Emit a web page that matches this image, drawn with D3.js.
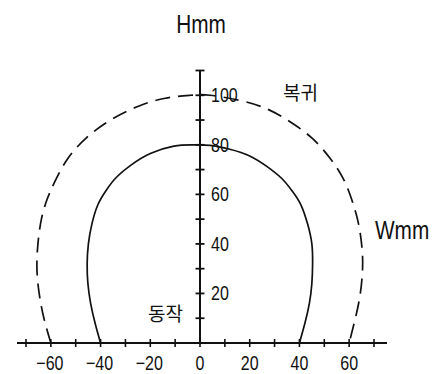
<!DOCTYPE html>
<html>
<head>
<meta charset="utf-8">
<script src="https://cdn.jsdelivr.net/npm/d3@7"></script>
<style>
	body { margin: 0; background: #fff; }
	svg text { font-family: 'Liberation Sans', Arial, sans-serif; fill: #111; }
	svg text.kr { font-family: 'Noto Sans CJK KR', sans-serif; }
</style>
</head>
<body>
<div id="chart"></div>
<script>
// operating curve (solid), W/H in mm, left bottom -> right bottom
const operateW = [-40, -42.2, -44, -45.1, -45.4, -44.9, -43.5, -41, -37.5, -33.5, -27.5, -20, -10.5, -3, 4, 12, 20, 27, 32.8, 37, 40.5, 43.3, 45, 45.3, 45, 44, 42.2, 40];
const operateH = [0, 8, 16, 24, 32, 40, 48, 56, 62, 67, 72, 76.5, 79.5, 80, 79.8, 78.2, 75.5, 71.2, 66.5, 61.5, 56, 48, 40, 32, 24, 16, 8, 0];

// return curve (dashed)
const returnW = [-60, -62.8, -64.7, -65.6, -65.2, -63.8, -61.5, -58.7, -53.5, -45.5, -36, -25, -14, -4, 4, 17, 28, 37.3, 45.3, 52, 57.3, 61, 63.8, 65.2, 65.4, 64.5, 62.5, 60];
const returnH = [0, 10, 20, 30, 40, 50, 58, 64.5, 74, 83, 90, 95.5, 98.8, 100, 100, 97.7, 94, 88.6, 82.5, 75, 67, 58, 48, 38, 30, 20, 10, 0];

const xTicks = [-70, -60, -50, -40, -30, -20, -10, 0, 10, 20, 30, 40, 50, 60, 70];
const xLabels = [-60, -40, -20, 0, 20, 40, 60];
const yTicks = [10, 20, 30, 40, 50, 60, 70, 80, 90, 100, 110];
const yLabels = [20, 40, 60, 80, 100];

const width = 442;
const height = 374;

const svg = d3.select('#chart')
	.append('svg')
	.attr('width', width)
	.attr('height', height);

const x = d3.scaleLinear().domain([-70, 70]).range([26, 374]);
const y = d3.scaleLinear().domain([0, 110]).range([343, 70.5]);

const ink = '#111';
const narrow = 0.8; // squeeze text to look like the condensed drafting font

// x axis
svg.append('line')
	.attr('x1', x(-70) - 9).attr('x2', x(70) + 13)
	.attr('y1', y(0)).attr('y2', y(0))
	.attr('stroke', ink).attr('stroke-width', 2);

svg.selectAll('.xtick')
	.data(xTicks)
	.enter()
	.append('line')
	.attr('class', 'xtick')
	.attr('x1', (d) => x(d)).attr('x2', (d) => x(d))
	.attr('y1', y(0) - 4).attr('y2', y(0) + 4)
	.attr('stroke', ink).attr('stroke-width', 1.6);

svg.selectAll('.xlabel')
	.data(xLabels)
	.enter()
	.append('text')
	.attr('class', 'xlabel')
	.attr('transform', (d) => `translate(${x(d) - (d < 0 ? 1 : 0)},370) scale(${narrow},1)`)
	.attr('text-anchor', 'middle')
	.attr('font-size', 20)
	.text((d) => d < 0 ? '\u2212' + Math.abs(d) : d);

// y axis
svg.append('line')
	.attr('x1', x(0)).attr('x2', x(0))
	.attr('y1', y(0)).attr('y2', y(110))
	.attr('stroke', ink).attr('stroke-width', 2);

svg.selectAll('.ytick')
	.data(yTicks)
	.enter()
	.append('line')
	.attr('class', 'ytick')
	.attr('x1', x(0) - 4.5).attr('x2', x(0) + 4.5)
	.attr('y1', (d) => y(d)).attr('y2', (d) => y(d))
	.attr('stroke', ink).attr('stroke-width', 1.8);

svg.selectAll('.ylabel')
	.data(yLabels)
	.enter()
	.append('text')
	.attr('class', 'ylabel')
	.attr('transform', (d) => `translate(${x(0) + 11},${y(d) + 7}) scale(${narrow},1)`)
	.attr('font-size', 20)
	.text((d) => d);

// curves
const line = d3.line()
	.x((d) => x(d[0]))
	.y((d) => y(d[1]))
	.curve(d3.curveNatural);

svg.append('path')
	.datum(operateW.map((w, i) => [w, operateH[i]]))
	.attr('d', line)
	.attr('fill', 'none')
	.attr('stroke', ink)
	.attr('stroke-width', 1.7);

svg.append('path')
	.datum(returnW.map((w, i) => [w, returnH[i]]))
	.attr('d', line)
	.attr('fill', 'none')
	.attr('stroke', ink)
	.attr('stroke-width', 1.7)
	.attr('stroke-dasharray', '15,8');

// axis titles and curve names
svg.append('text')
	.attr('transform', `translate(201,33) scale(${narrow},1)`)
	.attr('text-anchor', 'middle')
	.attr('font-size', 26)
	.text('Hmm');

svg.append('text')
	.attr('transform', `translate(375,239) scale(${narrow},1)`)
	.attr('font-size', 26)
	.text('Wmm');

svg.append('text')
	.attr('class', 'kr')
	.attr('x', 283).attr('y', 100)
	.attr('font-size', 19)
	.text('복귀');

svg.append('text')
	.attr('class', 'kr')
	.attr('x', 148).attr('y', 321)
	.attr('font-size', 19)
	.text('동작');
</script>
</body>
</html>
